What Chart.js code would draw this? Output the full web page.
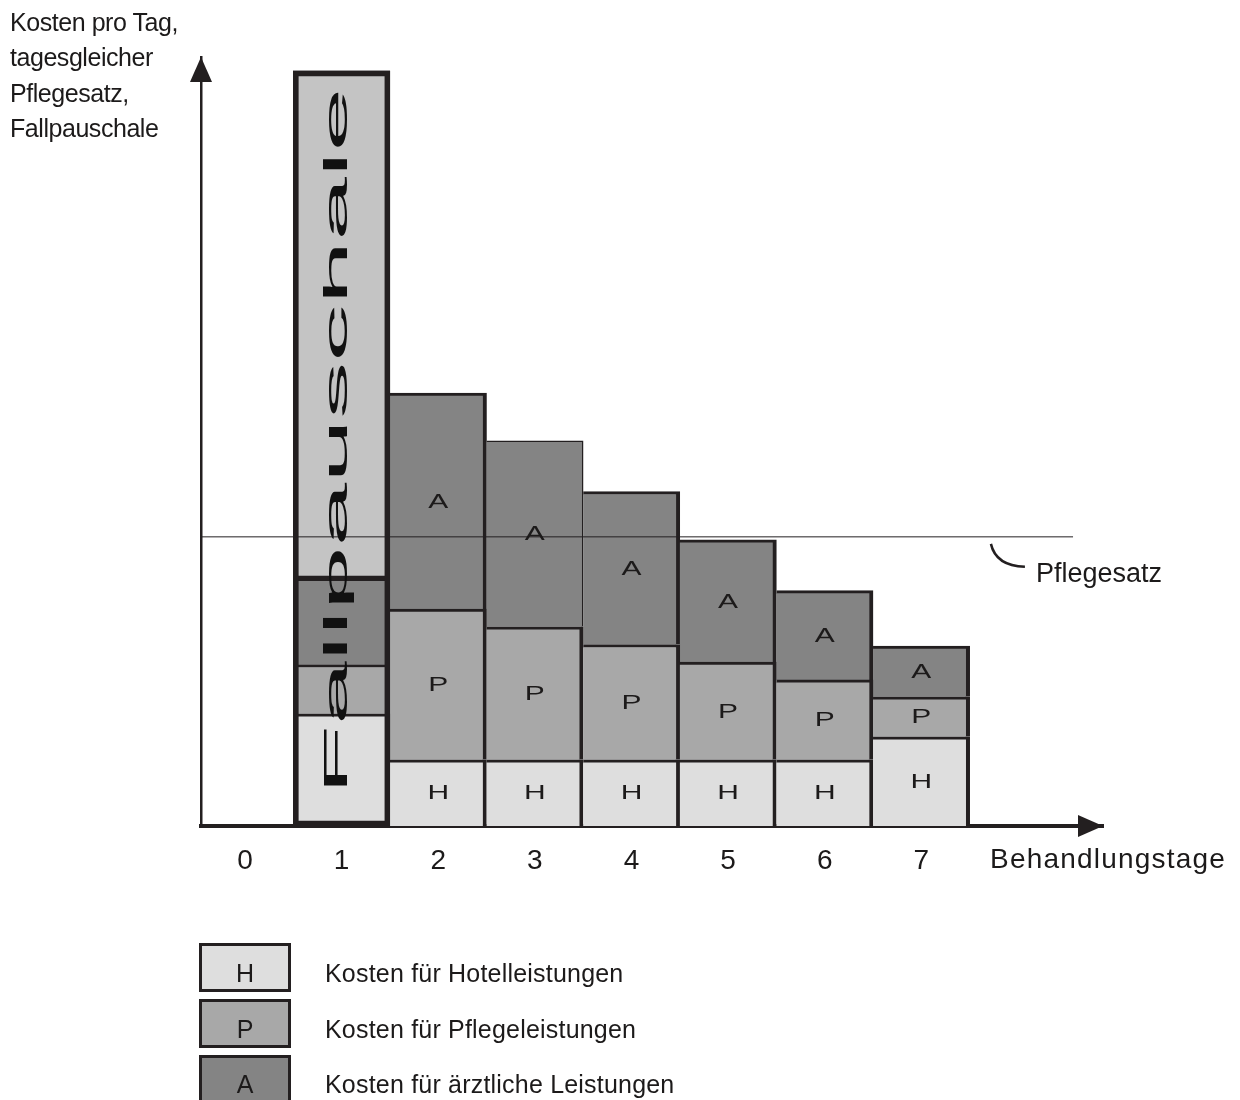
<!DOCTYPE html>
<html><head><meta charset="utf-8">
<script src="https://cdn.jsdelivr.net/npm/chart.js@4.4.1/dist/chart.umd.min.js"></script>
<style>
html,body{margin:0;padding:0;background:#fff;}
#wrap{position:relative;width:1240px;height:1100px;overflow:hidden;background:#fff;}
#c{position:absolute;left:0;top:0;}
.t{position:absolute;font-family:"Liberation Sans",Arial,sans-serif;color:#1c1a1a;white-space:nowrap;line-height:1;}
.box{position:absolute;left:199px;width:92px;height:49px;box-sizing:border-box;border:3px solid #231f20;}
</style></head><body>
<div id="wrap">
<canvas id="c" width="1240" height="1100"></canvas>
<div class="t" style="left:10px;top:5px;font-size:25px;line-height:35.3px;letter-spacing:-0.45px;">Kosten pro Tag,<br>tagesgleicher<br>Pflegesatz,<br>Fallpauschale</div>
<div class="t" style="left:1036px;top:560px;font-size:27px;">Pflegesatz</div>
<div class="t" style="left:990px;top:845px;font-size:28px;letter-spacing:1.2px;">Behandlungstage</div>
<div class="box" style="top:943px;background:#dedede;"></div>
<div class="box" style="top:999px;background:#a8a8a8;"></div>
<div class="box" style="top:1055px;background:#848484;"></div>
<div class="t" style="left:199px;width:92px;text-align:center;top:961px;font-size:25px;">H</div>
<div class="t" style="left:199px;width:92px;text-align:center;top:1017px;font-size:25px;">P</div>
<div class="t" style="left:199px;width:92px;text-align:center;top:1072px;font-size:25px;">A</div>
<div class="t" style="left:325px;top:961px;font-size:25px;letter-spacing:0.2px;">Kosten für Hotelleistungen</div>
<div class="t" style="left:325px;top:1017px;font-size:25px;letter-spacing:0.2px;">Kosten für Pflegeleistungen</div>
<div class="t" style="left:325px;top:1072px;font-size:25px;letter-spacing:0.2px;">Kosten für ärztliche Leistungen</div>
</div>
<script>
// ---- data ----
const days = [1, 2, 3, 4, 5, 6, 7];
const tickLabels = [0, 1, 2, 3, 4, 5, 6, 7];
const hotel   = [14.6, 8.6, 8.6, 8.6, 8.6, 8.6, 11.6];   // H
const pflege  = [6.4, 19.6, 17.3, 15.0, 12.7, 10.4, 5.2]; // P
const arzt    = [11.2, 28.1, 24.2, 19.9, 15.9, 11.6, 6.6]; // A
const fallpauschaleDay = 1;
const fallpauschale = 98.2;   // total height of the case flat rate on day 1
const pflegesatz = 37.6;      // daily flat rate
const pflegesatzEnd = 8.57;   // x-extent of the Pflegesatz line
const xMin = -0.455, xMax = 8.88, yMax = 100;
const segLetters = ['H', 'P', 'A'];

const COLORS = { H: '#dedede', P: '#a8a8a8', A: '#848484', F: '#c4c4c4', ink: '#231f20' };
Chart.defaults.font.family = '"Liberation Sans", Arial, sans-serif';

const pts = arr => days.map((d, i) => ({ x: d, y: arr[i] }));
const sumDay1 = hotel[0] + pflege[0] + arzt[0];

const EDGE = { top: 3, right: 4, bottom: 0, left: 0 };
const THIN = { top: 1.5, right: 1.5, bottom: 0, left: 0 };

const segDs = (label, arr, color) => ({
  type: 'bar', label, data: pts(arr), stack: 's', order: 2,
  backgroundColor: color, borderColor: COLORS.ink, borderWidth: EDGE, borderSkipped: false,
  barPercentage: 1, categoryPercentage: 1
});

const datasets = [
  segDs('H', hotel, COLORS.H),
  segDs('P', pflege, COLORS.P),
  Object.assign(segDs('A', arzt, COLORS.A), {
    borderWidth: ctx => (days[ctx.dataIndex] === 3 ? THIN : EDGE)
  }),
  { type: 'bar', label: 'F', data: [{ x: fallpauschaleDay, y: fallpauschale - sumDay1 }], stack: 's', order: 2,
    backgroundColor: COLORS.F, borderColor: COLORS.ink, borderWidth: 3, borderSkipped: false,
    barPercentage: 1, categoryPercentage: 1 },
  { type: 'bar', label: 'outline', data: [{ x: fallpauschaleDay, y: fallpauschale }], stack: 'o', grouped: false, order: 1,
    backgroundColor: 'rgba(0,0,0,0)', borderColor: COLORS.ink, borderWidth: 5, borderSkipped: false,
    barPercentage: 1, categoryPercentage: 1 },
  { type: 'line', label: 'Pflegesatz', data: [{ x: xMin, y: pflegesatz }, { x: pflegesatzEnd, y: pflegesatz }],
    stack: 'pf', order: 0, borderColor: COLORS.ink, borderWidth: 1, pointRadius: 0, fill: false, tension: 0 }
];

const decor = {
  id: 'decor',
  afterDatasetsDraw(chart) {
    const ctx = chart.ctx;
    // segment letters
    ctx.save();
    ctx.fillStyle = '#1c1a1a';
    ctx.font = '20px "Liberation Sans", Arial, sans-serif';
    ctx.textAlign = 'center';
    ctx.textBaseline = 'middle';
    [0, 1, 2].forEach(di => {
      chart.getDatasetMeta(di).data.forEach((el, i) => {
        if (days[i] === fallpauschaleDay) return;
        const cy = (el.y + el.base) / 2;
        ctx.save();
        ctx.translate(el.x, cy);
        ctx.scale(1.5, 1);
        ctx.fillText(segLetters[di], 0, 1);
        ctx.restore();
      });
    });
    ctx.restore();
    // Fallpauschale vertical text
    const fp = chart.getDatasetMeta(4).data[0];
    ctx.save();
    ctx.fillStyle = '#111';
    ctx.font = '34px "Liberation Sans", Arial, sans-serif';
    ctx.textBaseline = 'alphabetic';
    const w = ctx.measureText('Fallpauschale').width;
    const start = fp.base - 31, end = fp.y + 17;
    ctx.translate(fp.x + 5, start);
    ctx.rotate(-Math.PI / 2);
    ctx.scale((start - end) / w, 1);
    ctx.fillText('Fallpauschale', 0, 0);
    ctx.restore();
  },
  afterDraw(chart) {
    const ctx = chart.ctx, ca = chart.chartArea;
    const xs = chart.scales.x, ys = chart.scales.y;
    ctx.save();
    ctx.fillStyle = COLORS.ink;
    // y arrow
    ctx.beginPath();
    ctx.moveTo(ca.left, ca.top);
    ctx.lineTo(ca.left - 11, ca.top + 25);
    ctx.lineTo(ca.left + 11, ca.top + 25);
    ctx.closePath(); ctx.fill();
    // x arrow
    ctx.beginPath();
    ctx.moveTo(ca.right, ca.bottom);
    ctx.lineTo(ca.right - 25, ca.bottom - 11);
    ctx.lineTo(ca.right - 25, ca.bottom + 11);
    ctx.closePath(); ctx.fill();
    // leader for Pflegesatz
    const py = ys.getPixelForValue(pflegesatz);
    const x0 = xs.getPixelForValue(7.72);
    ctx.strokeStyle = COLORS.ink; ctx.lineWidth = 2.5;
    ctx.beginPath();
    ctx.moveTo(x0, py + 7);
    ctx.quadraticCurveTo(x0 + 5, py + 29, x0 + 34, py + 30);
    ctx.stroke();
    ctx.restore();
  }
};

new Chart(document.getElementById('c'), {
  data: { datasets },
  options: {
    responsive: false, animation: false, devicePixelRatio: 1,
    layout: { padding: { left: 201, top: 57, right: 137, bottom: 222 } },
    plugins: { legend: { display: false }, tooltip: { enabled: false } },
    scales: {
      x: {
        type: 'linear', min: xMin, max: xMax, offset: false,
        grid: { display: false, drawTicks: false, offset: false },
        border: { display: true, width: 4, color: COLORS.ink },
        ticks: { font: { size: 28 }, color: '#1c1a1a', padding: 18, maxRotation: 0, autoSkip: false },
        afterBuildTicks: s => { s.ticks = tickLabels.map(v => ({ value: v })); },
        afterFit: s => { s.height = 52; }
      },
      y: {
        type: 'linear', min: 0, max: yMax, stacked: true,
        grid: { display: false, drawTicks: false },
        border: { display: true, width: 2.5, color: COLORS.ink },
        ticks: { display: false },
        afterFit: s => { s.width = 0; }
      }
    }
  },
  plugins: [decor]
});
</script>
</body></html>
